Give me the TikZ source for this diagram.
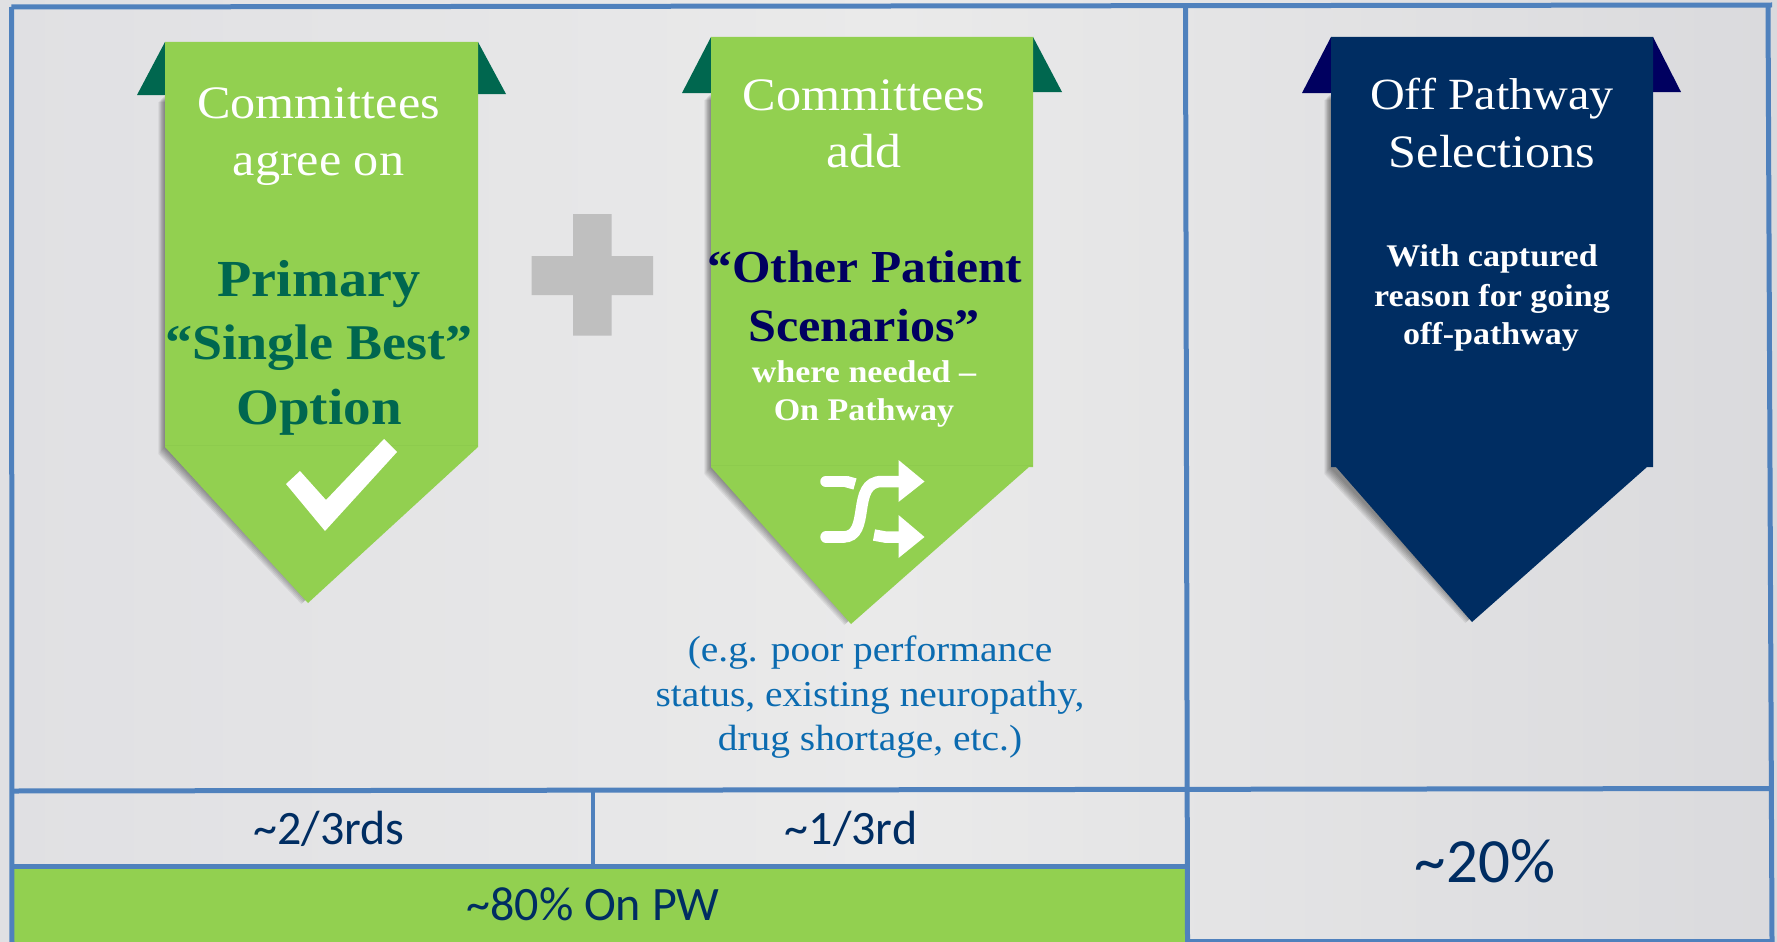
\documentclass[tikz,border=0pt]{standalone}
\usepackage{fontspec}
\setmainfont{Liberation Serif}
\newfontfamily\camfont[FakeStretch=1.08]{Liberation Serif}
\newfontfamily\calfont{Carlito}
\definecolor{framec}{HTML}{4F81BD}
\definecolor{leaf}{HTML}{92D050}
\definecolor{leafd}{HTML}{8DCB4D}
\definecolor{forest}{HTML}{00674F}
\definecolor{navyr}{HTML}{002D62}
\definecolor{navyw}{HTML}{000060}
\definecolor{plusc}{HTML}{BFBFBF}
\definecolor{bluet}{HTML}{0B6BB0}
\definecolor{bgl}{HTML}{E0E0E3}
\definecolor{bgm}{HTML}{EAEAEA}
\definecolor{bgr}{HTML}{DADADD}
\tikzset{
  x=1pt,y=-1pt,
  lbl/.style={anchor=base,inner sep=0pt,outer sep=0pt,align=center},
  headtxt/.style={lbl,text=white,font=\fontsize{46.5}{50}\selectfont\camfont},
  bigb/.style={lbl,font=\fontsize{49.5}{54}\selectfont\camfont\bfseries},
  smallb/.style={lbl,text=white,font=\fontsize{31.5}{36}\selectfont\camfont\bfseries},
  noteb/.style={lbl,text=bluet,font=\fontsize{36.5}{40}\selectfont\camfont},
  pct/.style={lbl,text=navyr,font=\fontsize{48}{52}\selectfont\calfont},
  frameln/.style={draw=framec,line width=5pt},
  thinln/.style={draw=framec,line width=3.5pt},
}
\newcommand{\ribbonshadow}[1]{%
  \foreach \d in {1,2,...,7}{\fill[black,opacity=0.065,shift={(-\d*0.95,\d*1.0)}] #1;}%
}
\begin{document}
\begin{tikzpicture}
\useasboundingbox (0,0) rectangle (1777,942);
% background
\shade[left color=bgl,right color=bgr,middle color=bgm] (0,0) rectangle (1777,942);
% green bar
\fill[leaf] (12,867) rectangle (1186,942);
% frame
\draw[frameln] (11.5,7) -- (1772,5);
\draw[frameln] (11.5,7) -- (12,942);
\draw[frameln] (1185.5,5) -- (1187.5,942);
\draw[frameln] (1768,5) -- (1772,942);
\draw[frameln] (12,791) -- (1772,788.5);
\draw[frameln] (12,866) -- (1186,866);
\draw[thinln] (593,791) -- (593,864);
\draw[thinln] (1187,941) -- (1772,941);
% plus
\fill[plusc] (573,214) -- (611.5,214) -- (611.5,256) -- (653,256) -- (653,295) -- (611.5,295) -- (611.5,335.5) -- (573,335.5) -- (573,295) -- (531.5,295) -- (531.5,256) -- (573,256) -- cycle;
% ribbon 1
\fill[forest] (165,42) -- (137,95) -- (165,95) -- cycle;
\fill[forest] (478,42) -- (506,94) -- (478,94) -- cycle;
\ribbonshadow{(165,95) -- (470,95) -- (470,447) -- (308,597) -- (165,447) -- cycle}
\fill[leaf] (165,42) -- (478,42) -- (478,447) -- (308,603) -- (165,447) -- cycle;
\draw[leafd,line width=0.8pt] (165,445) -- (478,445);
\fill[white] (286,484) -- (300,471) -- (326,500) -- (384,439) -- (397,452) -- (325,531) -- cycle;
% ribbon 2
\fill[forest] (711,37) -- (682,93) -- (711,93) -- cycle;
\fill[forest] (1033,37) -- (1062,92) -- (1033,92) -- cycle;
\ribbonshadow{(711,93) -- (1020,93) -- (1020,467) -- (851,618) -- (711,467) -- cycle}
\fill[leaf] (711,37) -- (1033,37) -- (1033,467) -- (1029,467) -- (851,624) -- (711,467) -- cycle;
\draw[leafd,line width=0.8pt] (711,465) -- (1033,465);
\draw[white,line width=11.5pt,line cap=round] (826,481.5) -- (846,481.5);
\draw[white,line width=11.5pt] (846,481.5) -- (855,484);
\draw[white,line width=11.5pt,line cap=round] (826,537) -- (843,537);
\draw[white,line width=11.5pt] (843,537) .. controls (872,537) and (850,481.5) .. (882,481.5) -- (902,481.5);
\draw[white,line width=11.5pt] (874,535) -- (885,537) -- (902,537);
\fill[white] (898.5,460) -- (924.5,481.5) -- (898.5,502) -- cycle;
\fill[white] (898.5,515) -- (924.5,537) -- (898.5,558) -- cycle;
% ribbon 3
\fill[navyw] (1331,37) -- (1302,93) -- (1331,93) -- cycle;
\fill[navyw] (1653,37) -- (1681,92) -- (1653,92) -- cycle;
\ribbonshadow{(1331,93) -- (1640,93) -- (1640,467) -- (1472,616) -- (1331,467) -- cycle}
\fill[navyr] (1331,37) -- (1653,37) -- (1653,467) -- (1647,467) -- (1472,622) -- (1336,467) -- (1331,467) -- cycle;
% ribbon 1 text
\node[headtxt] (a1) at (318.5,118) {Committees};
\node[headtxt] (a2) at (318.5,175.5) {agree on};
\node[bigb,text=forest,font=\fontsize{52}{56}\selectfont\camfont\bfseries] (a3) at (319,296) {Primary};
\node[bigb,text=forest,font=\fontsize{50}{54}\selectfont\camfont\bfseries] (a4) at (319,359) {“Single Best”};
\node[bigb,text=forest,font=\fontsize{51}{55}\selectfont\camfont\bfseries] (a5) at (319,424) {Option};
% ribbon 2 text
\node[headtxt] (b1) at (864,110) {Committees};
\node[headtxt,font=\fontsize{48}{52}\selectfont\camfont] (b2) at (864,167) {add};
\node[bigb,text=navyw,font=\fontsize{45.8}{50}\selectfont\camfont\bfseries] (b3) at (865,282) {“Other Patient};
\node[bigb,text=navyw,font=\fontsize{46.5}{50}\selectfont\camfont\bfseries] (b4) at (864,341) {Scenarios”};
\node[smallb] (b5) at (864,382) {where needed –};
\node[smallb] (b6) at (864,420) {On Pathway};
\node[noteb] (n1) at (870,661) {(e.g. poor performance};
\node[noteb] (n2) at (870,706) {status, existing neuropathy,};
\node[noteb] (n3) at (870,750) {drug shortage, etc.)};
% ribbon 3 text
\node[headtxt,font=\fontsize{44.6}{48}\selectfont\camfont] (c1) at (1492,109) {Off Pathway};
\node[headtxt] (c2) at (1492,167) {Selections};
\node[smallb] (c3) at (1492,266) {With captured};
\node[smallb] (c4) at (1492,306) {reason for going};
\node[smallb] (c5) at (1491,344) {off-pathway};
% percentages
\node[pct] (p1) at (329,844) {\textasciitilde 2/3rds};
\node[pct] (p2) at (851,844) {\textasciitilde 1/3rd};
\node[pct] (p3) at (593,920) {\textasciitilde 80\% On PW};
\node[pct,font=\fontsize{63}{66}\selectfont\calfont] (p4) at (1485,882) {\textasciitilde 20\%};
\end{tikzpicture}
\end{document}
